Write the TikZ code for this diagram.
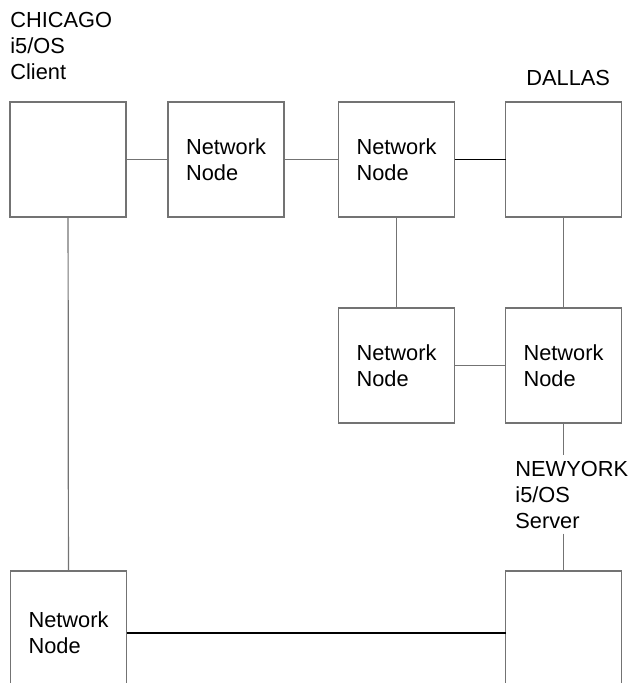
\documentclass[tikz,border=0pt]{standalone}
\usepackage{fontspec}
\setmainfont{Liberation Sans}
\begin{document}
\begin{tikzpicture}[x=0.5pt, y=-0.5pt,
  box/.style={draw=black!55, line width=0.6pt, minimum width=58pt, minimum height=57.5pt,
              inner sep=0pt, outer sep=0pt, align=left, font=\fontsize{10.9}{13}\selectfont},
  lbl/.style={inner sep=0pt, align=left, anchor=north west, font=\fontsize{10.9}{13}\selectfont},
  wire/.style={draw=black!55, line width=0.6pt}]

  \useasboundingbox (0,0) rectangle (629,683);
  \clip (0,0) rectangle (629,683);

	%draw boxes
 \def\nn{Network\\Node};
    \foreach \x/\y/\name/\txt in { 68/159.5/chi/{}, 226/159.5/nna/\nn, 396.5/159.5/nnb/\nn, 563.5/159.5/dal/{},
                                   396.5/365.5/nnc/\nn, 563.5/365.5/nnd/\nn }{
         \node[box] (\name) at (\x,\y) {\txt};
    }
    % bottom row runs off the page
    \foreach \x/\name/\txt in { 68.5/nne/\nn, 563.5/nyc/{} }{
         \node[box, minimum height=62pt] (\name) at (\x,633) {\txt};
    }

	%draw labels
 \node[lbl] (chil) at (10,11.5) {CHICAGO\\i5/OS\\Client};
 \node[lbl] (dall) at (526,69.5) {DALLAS};
 \node[lbl] (nyl) at (515,460.5) {NEWYORK\\i5/OS\\Server};

	%draw links
 \draw[wire] (chi) -- (nna);
 \draw[wire] (nna) -- (nnb);
 \draw[wire, draw=black] (nnb) -- (dal);
 \draw[wire] (nnb) -- (nnc);
 \draw[wire] (dal) -- (nnd);
 \draw[wire] (nnc) -- (nnd);
 \draw[wire] (chi) -- (nne);
 \draw[wire, draw=black] (nne) -- (nyc);
 \draw[wire, shorten >=3pt] (nnd.south) -- (nnd.south |- nyl.north);
 \draw[wire, shorten <=2.5pt] (nyl.south -| nyc.north) -- (nyc.north);

\end{tikzpicture}
\end{document}
